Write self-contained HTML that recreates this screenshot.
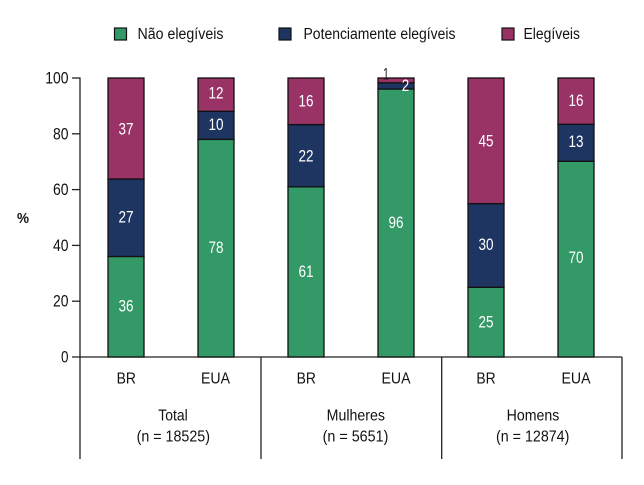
<!DOCTYPE html>
<html>
<head>
<meta charset="utf-8">
<style>
html,body{margin:0;padding:0;background:#fff;}
svg{display:block;}
text{font-family:"Liberation Sans",Arial,sans-serif;}
</style>
</head>
<body>
<svg width="644" height="485" viewBox="0 0 644 485" xmlns="http://www.w3.org/2000/svg">
<rect width="644" height="485" fill="#fff"/>
<!-- Legend -->
<rect x="114.5" y="28" width="12" height="12" fill="#339966" stroke="#111" stroke-width="1.2"/>
<text x="137.5" y="39" font-size="15.5" fill="#111" textLength="86" lengthAdjust="spacingAndGlyphs">Não elegíveis</text>
<rect x="279" y="28" width="12" height="12" fill="#1e3461" stroke="#111" stroke-width="1.2"/>
<text x="303.5" y="39" font-size="15.5" fill="#111" textLength="152" lengthAdjust="spacingAndGlyphs">Potenciamente elegíveis</text>
<rect x="502" y="28" width="12" height="12" fill="#993366" stroke="#111" stroke-width="1.2"/>
<text x="523.5" y="39" font-size="15.5" fill="#111" textLength="56.5" lengthAdjust="spacingAndGlyphs">Elegíveis</text>

<!-- Y axis label -->
<text x="17" y="223" font-size="15" font-weight="bold" fill="#111" textLength="12" lengthAdjust="spacingAndGlyphs">%</text>

<!-- Axes and frame -->
<g stroke="#222" stroke-width="1.3" fill="none">
<line x1="80" y1="77.5" x2="80" y2="459"/>
<line x1="72" y1="357" x2="622" y2="357"/>
<line x1="261" y1="357" x2="261" y2="459"/>
<line x1="441.7" y1="357" x2="441.7" y2="459"/>
<line x1="622" y1="357" x2="622" y2="459"/>
<line x1="72" y1="78" x2="80" y2="78"/>
<line x1="72" y1="133.8" x2="80" y2="133.8"/>
<line x1="72" y1="189.6" x2="80" y2="189.6"/>
<line x1="72" y1="245.4" x2="80" y2="245.4"/>
<line x1="72" y1="301.2" x2="80" y2="301.2"/>
</g>
<g font-size="16.5" fill="#111" text-anchor="end">
<text x="68.5" y="83.5" textLength="23.3" lengthAdjust="spacingAndGlyphs">100</text>
<text x="68.5" y="139.3" textLength="15.5" lengthAdjust="spacingAndGlyphs">80</text>
<text x="68.5" y="195.1" textLength="15.5" lengthAdjust="spacingAndGlyphs">60</text>
<text x="68.5" y="250.9" textLength="15.5" lengthAdjust="spacingAndGlyphs">40</text>
<text x="68.5" y="306.7" textLength="15.5" lengthAdjust="spacingAndGlyphs">20</text>
<text x="68.5" y="362.5" textLength="7.5" lengthAdjust="spacingAndGlyphs">0</text>
</g>

<!-- Bars -->
<g stroke="#111" stroke-width="1.3">
<!-- Total BR -->
<rect x="108" y="256.5" width="36" height="100.5" fill="#339966"/>
<rect x="108" y="179" width="36" height="77.5" fill="#1e3461"/>
<rect x="108" y="78" width="36" height="101" fill="#993366"/>
<!-- Total EUA -->
<rect x="198" y="139.4" width="36" height="217.6" fill="#339966"/>
<rect x="198" y="111.3" width="36" height="28.1" fill="#1e3461"/>
<rect x="198" y="78" width="36" height="33.3" fill="#993366"/>
<!-- Mulheres BR -->
<rect x="288" y="186.8" width="36" height="170.2" fill="#339966"/>
<rect x="288" y="124.6" width="36" height="62.2" fill="#1e3461"/>
<rect x="288" y="78" width="36" height="46.6" fill="#993366"/>
<!-- Mulheres EUA -->
<rect x="378" y="89" width="36" height="268" fill="#339966"/>
<rect x="378" y="82.8" width="36" height="6.2" fill="#1e3461"/>
<rect x="378" y="78" width="36" height="4.8" fill="#993366"/>
<!-- Homens BR -->
<rect x="468" y="287.3" width="36" height="69.7" fill="#339966"/>
<rect x="468" y="203.6" width="36" height="83.7" fill="#1e3461"/>
<rect x="468" y="78" width="36" height="125.6" fill="#993366"/>
<!-- Homens EUA -->
<rect x="558" y="161.3" width="36" height="195.7" fill="#339966"/>
<rect x="558" y="124.3" width="36" height="37" fill="#1e3461"/>
<rect x="558" y="78" width="36" height="46.3" fill="#993366"/>
</g>

<!-- Bar labels -->
<g font-size="17" fill="#fff" text-anchor="middle">
<text x="126" y="134.3" textLength="15" lengthAdjust="spacingAndGlyphs">37</text>
<text x="126" y="222.7" textLength="15" lengthAdjust="spacingAndGlyphs">27</text>
<text x="126" y="311.7" textLength="15" lengthAdjust="spacingAndGlyphs">36</text>
<text x="216" y="98.7" textLength="15" lengthAdjust="spacingAndGlyphs">12</text>
<text x="216" y="130" textLength="15" lengthAdjust="spacingAndGlyphs">10</text>
<text x="216" y="253" textLength="15" lengthAdjust="spacingAndGlyphs">78</text>
<text x="306" y="106.7" textLength="15" lengthAdjust="spacingAndGlyphs">16</text>
<text x="306" y="161.7" textLength="15" lengthAdjust="spacingAndGlyphs">22</text>
<text x="306" y="277" textLength="15" lengthAdjust="spacingAndGlyphs">61</text>
<text x="396" y="228" textLength="15" lengthAdjust="spacingAndGlyphs">96</text>
<text x="405.5" y="91" textLength="7.5" lengthAdjust="spacingAndGlyphs">2</text>
<text x="486" y="146.7" textLength="15" lengthAdjust="spacingAndGlyphs">45</text>
<text x="486" y="250" textLength="15" lengthAdjust="spacingAndGlyphs">30</text>
<text x="486" y="327.7" textLength="15" lengthAdjust="spacingAndGlyphs">25</text>
<text x="576" y="106" textLength="15" lengthAdjust="spacingAndGlyphs">16</text>
<text x="576" y="147" textLength="15" lengthAdjust="spacingAndGlyphs">13</text>
<text x="576" y="263" textLength="15" lengthAdjust="spacingAndGlyphs">70</text>
</g>
<text x="386" y="79.3" font-size="17" fill="#2a1a1a" text-anchor="middle" textLength="6" lengthAdjust="spacingAndGlyphs">1</text>

<!-- Category labels -->
<g font-size="16" fill="#111" text-anchor="middle">
<text x="126.3" y="383.3" textLength="19.3" lengthAdjust="spacingAndGlyphs">BR</text>
<text x="215.5" y="383.3" textLength="29" lengthAdjust="spacingAndGlyphs">EUA</text>
<text x="306.3" y="383.3" textLength="19.3" lengthAdjust="spacingAndGlyphs">BR</text>
<text x="396" y="383.3" textLength="29" lengthAdjust="spacingAndGlyphs">EUA</text>
<text x="486" y="383.3" textLength="19.3" lengthAdjust="spacingAndGlyphs">BR</text>
<text x="576" y="383.3" textLength="29" lengthAdjust="spacingAndGlyphs">EUA</text>

<text x="173" y="420.5" textLength="29.4" lengthAdjust="spacingAndGlyphs">Total</text>
<text x="173.3" y="441.5" textLength="73.3" lengthAdjust="spacingAndGlyphs">(n = 18525)</text>
<text x="355.8" y="420.5" textLength="58.3" lengthAdjust="spacingAndGlyphs">Mulheres</text>
<text x="355.5" y="441.5" textLength="65.7" lengthAdjust="spacingAndGlyphs">(n = 5651)</text>
<text x="533" y="420.5" textLength="52.7" lengthAdjust="spacingAndGlyphs">Homens</text>
<text x="532.7" y="441.5" textLength="73.3" lengthAdjust="spacingAndGlyphs">(n = 12874)</text>
</g>
</svg>
</body>
</html>
